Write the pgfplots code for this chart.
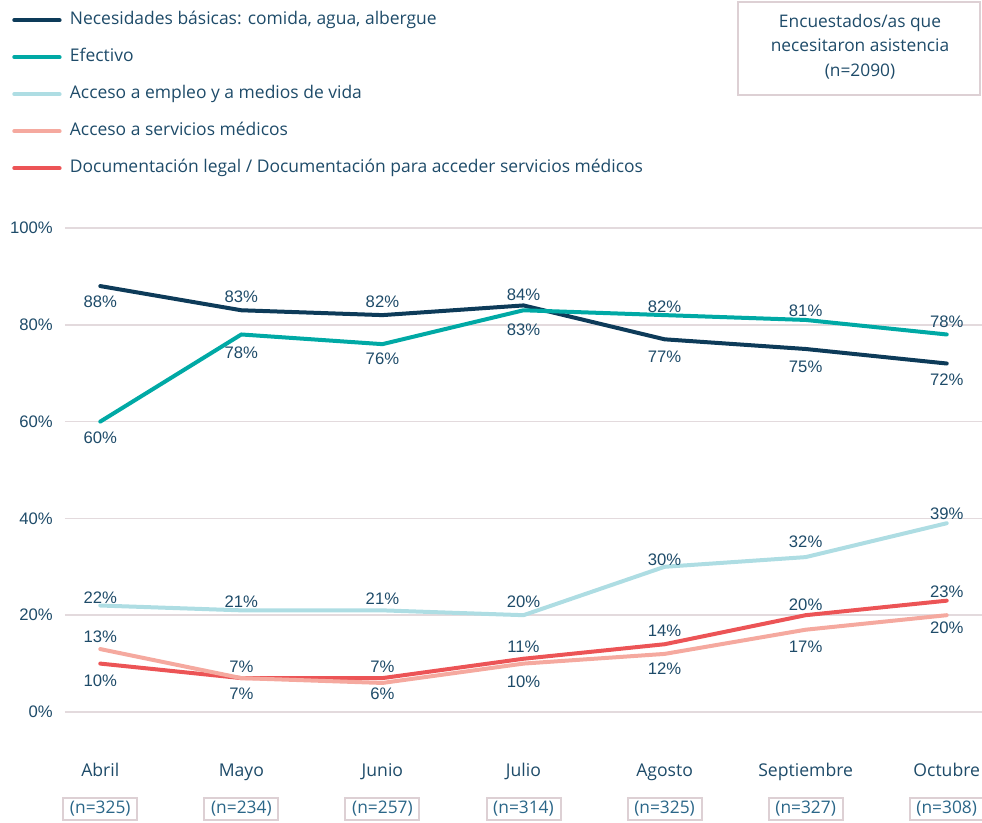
\documentclass[border=0pt]{standalone}
\usepackage{fontspec}
\setmainfont{Open Sans}
\newfontfamily\numfont{Liberation Sans}
\usepackage{pgfplots}
\pgfplotsset{compat=1.18}
\usepackage{pgfplotstable}
\definecolor{txt}{HTML}{1E4B69}
\definecolor{ntxt}{HTML}{2A6688}
\definecolor{gridc}{HTML}{E3DADD}
\definecolor{boxc}{HTML}{DDD0D4}
\definecolor{cnec}{HTML}{0D3B59}
\definecolor{cefe}{HTML}{00A9A5}
\definecolor{cemp}{HTML}{AEDDE3}
\definecolor{cmed}{HTML}{F5A99F}
\definecolor{cdoc}{HTML}{EC5456}

\pgfplotstableread{
x y d
0 88 -12
1 83 10.5
2 82 9.75
3 84 8.25
4 77 -12.75
5 75 -13.5
6 72 -12
}\datNec
\pgfplotstableread{
x y d
0 60 -12
1 78 -13.5
2 76 -11.25
3 83 -14.25
4 82 6
5 81 6.75
6 78 9.75
}\datEfe
\pgfplotstableread{
x y d
0 22 6
1 21 6.75
2 21 9
3 20 9.75
4 30 5.25
5 32 11.25
6 39 6.75
}\datEmp
\pgfplotstableread{
x y d
0 13 9
1 7 -12
2 6 -8.25
3 10 -13.5
4 12 -11.25
5 17 -12.75
6 20 -9.75
}\datMed
\pgfplotstableread{
x y d
0 10 -12.75
1 7 8.25
2 7 8.25
3 11 9
4 14 9.75
5 20 7.5
6 23 6.75
}\datDoc

\pgfplotsset{
  lbl/.style={
    line width=3pt, line join=round, line cap=round,
    nodes near coords={\pgfmathprintnumber{\pgfplotspointmeta}\%},
    point meta=explicit,
    visualization depends on={\thisrow{d} \as \dy},
    every node near coord/.append style={anchor=center, inner sep=0pt,
      yshift=\dy, text=txt, font=\numfont\fontsize{12.5}{15}\selectfont},
  },
}
\tikzset{nbox/.style={draw=boxc, line width=1.5pt, inner sep=0pt,
  minimum width=55.5pt, minimum height=16.5pt, text=ntxt,
  font=\fontsize{13}{15}\selectfont, yshift=-72.75pt}}

\begin{document}
\begin{tikzpicture}
\useasboundingbox (-48.75pt,-83.25pt) rectangle (687.75pt,534pt);
\begin{axis}[
  at={(0,0)}, anchor=south west,
  scale only axis, width=687.75pt, height=363pt,
  xmin=-0.25, xmax=6.25, ymin=0, ymax=100,
  clip=false,
  axis line style={draw=none},
  tick style={draw=none},
  ymajorgrids,
  grid style={color=gridc, line width=1.1pt},
  ytick={0,20,40,60,80,100},
  yticklabel={\pgfmathprintnumber{\tick}\%},
  /pgf/number format/assume math mode=true,
  yticklabel style={anchor=east, inner sep=0pt, xshift=-9pt, text=txt,
    font=\numfont\fontsize{12.5}{15}\selectfont},
  xtick={0,...,6},
  xticklabels={Abril,Mayo,Junio,Julio,Agosto,Septiembre,Octubre},
  xticklabel style={anchor=base, inner sep=0pt, yshift=-48.75pt, text=txt,
    font=\fontsize{13.2}{15}\selectfont},
  legend style={at={(0,1)}, anchor=north west, xshift=-39.75pt, yshift=162pt,
    draw=none, fill=none, inner sep=0pt, row sep=15.75pt, column sep=6.25pt,
    nodes={inner sep=0pt, text height=9pt, text depth=3pt, anchor=west,
      text=txt, font=\fontsize{13.1}{15}\selectfont}},
  legend cell align=left,
  legend image code/.code={\draw[#1, line width=3pt, line cap=round] (0pt,0pt) -- (34pt,0pt);},
]
\addlegendimage{cnec}
\addlegendimage{cefe}
\addlegendimage{cemp}
\addlegendimage{cmed}
\addlegendimage{cdoc}
\legend{Necesidades básicas: comida{,} agua{,} albergue, Efectivo, Acceso a empleo y a medios de vida, Acceso a servicios médicos, Documentación legal / Documentación para acceder servicios médicos}

\addplot[cemp, lbl, forget plot] table[x=x, y=y, meta=y] {\datEmp};
\addplot[cdoc, lbl, forget plot] table[x=x, y=y, meta=y] {\datDoc};
\addplot[cmed, lbl, forget plot] table[x=x, y=y, meta=y] {\datMed};
\addplot[cnec, lbl, forget plot] table[x=x, y=y, meta=y] {\datNec};
\addplot[cefe, lbl, forget plot] table[x=x, y=y, meta=y] {\datEfe};

\node[nbox] at (axis cs:0,0) {(n=325)};
\node[nbox] at (axis cs:1,0) {(n=234)};
\node[nbox] at (axis cs:2,0) {(n=257)};
\node[nbox] at (axis cs:3,0) {(n=314)};
\node[nbox] at (axis cs:4,0) {(n=325)};
\node[nbox] at (axis cs:5,0) {(n=327)};
\node[nbox] at (axis cs:6,0) {(n=308)};
\end{axis}
\draw[boxc, line width=1.5pt] (504.75pt,462.75pt) rectangle (686.5pt,532.5pt);
\node[align=center, text=txt, font=\fontsize{13}{18.4}\selectfont, inner sep=0pt]
  at (596.25pt,499.1pt) {Encuestados/as que\\necesitaron asistencia\\(n=2090)};
\end{tikzpicture}
\end{document}
